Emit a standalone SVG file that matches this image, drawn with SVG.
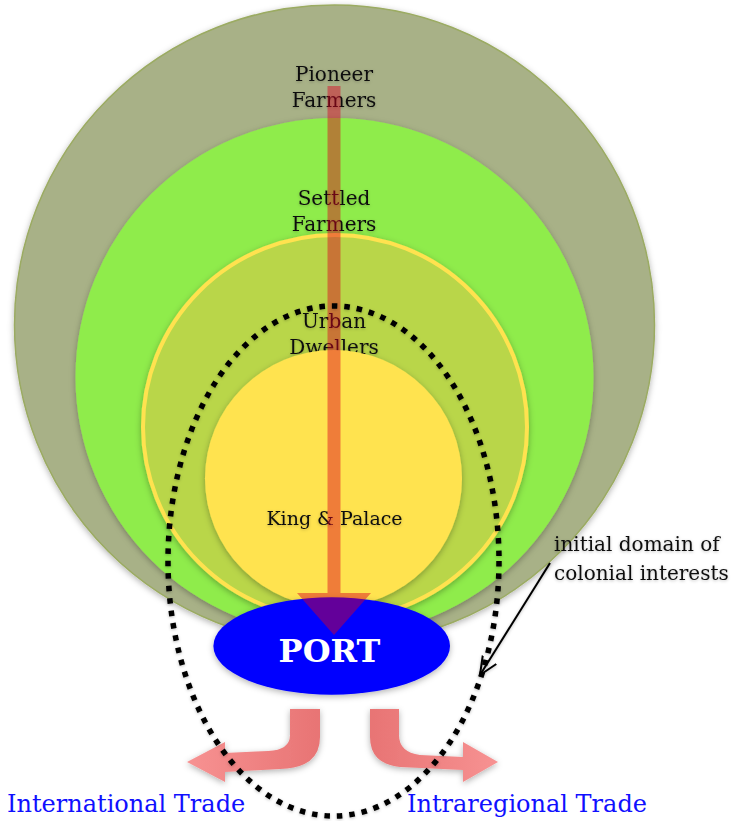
<svg xmlns="http://www.w3.org/2000/svg" width="736" height="821" viewBox="0 0 736 821">
<style>
  .lbl{font-family:"DejaVu Serif","Liberation Serif",serif;font-size:20px;fill:#111;text-anchor:middle}
  .trade{font-family:"DejaVu Serif","Liberation Serif",serif;font-size:24px;fill:#1010ff}
  .note{font-family:"DejaVu Serif","Liberation Serif",serif;font-size:20px;fill:#111}
  .port{font-family:"DejaVu Serif","Liberation Serif",serif;font-size:32px;font-weight:bold;fill:#fff;text-anchor:middle}
</style>
<defs>
  <filter id="sh" x="-10%" y="-10%" width="120%" height="125%">
    <feDropShadow dx="0" dy="2" stdDeviation="3" flood-color="#000" flood-opacity="0.3"/>
  </filter>
  <filter id="tsh" x="-10%" y="-20%" width="120%" height="140%">
    <feDropShadow dx="0" dy="1" stdDeviation="1.5" flood-color="#000" flood-opacity="0.25"/>
  </filter>
  <linearGradient id="tradeL" x1="0" y1="0" x2="1" y2="0">
    <stop offset="0" stop-color="#f79292"/>
    <stop offset="1" stop-color="#e87474"/>
  </linearGradient>
  <linearGradient id="tradeR" x1="0" y1="0" x2="1" y2="0">
    <stop offset="0" stop-color="#e87474"/>
    <stop offset="1" stop-color="#f79292"/>
  </linearGradient>
  <marker id="open" viewBox="0 0 20 20" refX="18" refY="10" markerWidth="20" markerHeight="20" markerUnits="userSpaceOnUse" orient="auto">
    <path d="M0,2 L18,10 L0,18" fill="none" stroke="#000" stroke-width="2"/>
  </marker>
</defs>

<g id="pioneer-farmers">
  <circle cx="334.5" cy="325" r="320" fill="#a8b187" stroke="#9bab62" stroke-width="1.5" filter="url(#sh)"/>
  <text class="lbl" filter="url(#tsh)" x="334" y="81">Pioneer</text>
  <text class="lbl" filter="url(#tsh)" x="334" y="107">Farmers</text>
</g>
<g id="settled-farmers">
  <circle cx="334.5" cy="377" r="259" fill="#8fec4c" filter="url(#sh)"/>
  <text class="lbl" filter="url(#tsh)" x="334" y="205">Settled</text>
  <text class="lbl" filter="url(#tsh)" x="334" y="231">Farmers</text>
</g>
<g id="urban-dwellers">
  <circle cx="335" cy="427" r="192" fill="#b9d64a" stroke="#ffe24f" stroke-width="4" filter="url(#sh)"/>
  <text class="lbl" filter="url(#tsh)" x="334" y="328">Urban</text>
  <text class="lbl" filter="url(#tsh)" x="334" y="354">Dwellers</text>
</g>
<g id="king-palace">
  <circle cx="333.5" cy="478.5" r="128.5" fill="#ffe34f" filter="url(#sh)"/>
  <text class="lbl" filter="url(#tsh)" x="334.5" y="525" style="font-size:19px">King &amp; Palace</text>
</g>

<g id="port">
  <ellipse cx="331.7" cy="646" rx="118.3" ry="48.7" fill="#0000ff" filter="url(#sh)"/>
</g>

<g id="connectors">
  <path id="flow-to-port" d="M327.5,86 H340.5 V593 H371 L334,635 L297,593 H327.5 Z" fill="#dc001e" fill-opacity="0.45"/>
</g>

<g id="port-label">
  <text class="port" x="329.5" y="662">PORT</text>
</g>

<g id="trade-connectors">
  <path id="intl-arrow" d="M290,709 H320 V737 Q320,768 280,769 L225,772 V782 L187,762 L225,742 V753 L268,751 Q290,750 290,735 Z" fill="url(#tradeL)" filter="url(#sh)"/>
  <path id="intra-arrow" d="M370,709 H399 V735 Q399,752 420,755 L463,757 V742 L498,762 L463,782 V770 L400,767 Q370,764 370,737 Z" fill="url(#tradeR)" filter="url(#sh)"/>
</g>

<g id="colonial-domain">
  <ellipse cx="333.5" cy="561" rx="165.5" ry="255" fill="none" stroke="#000" stroke-width="5.5" stroke-dasharray="5.5 7" filter="url(#tsh)"/>
  <text class="note" filter="url(#tsh)" x="554" y="551">initial domain of</text>
  <text class="note" filter="url(#tsh)" x="554" y="580">colonial interests</text>
  <line x1="550" y1="563" x2="480" y2="675" stroke="#000" stroke-width="2" marker-end="url(#open)" filter="url(#tsh)"/>
</g>

<g id="labels">
  <text class="trade" x="7" y="812">International Trade</text>
  <text class="trade" x="407" y="812">Intraregional Trade</text>
</g>
</svg>
